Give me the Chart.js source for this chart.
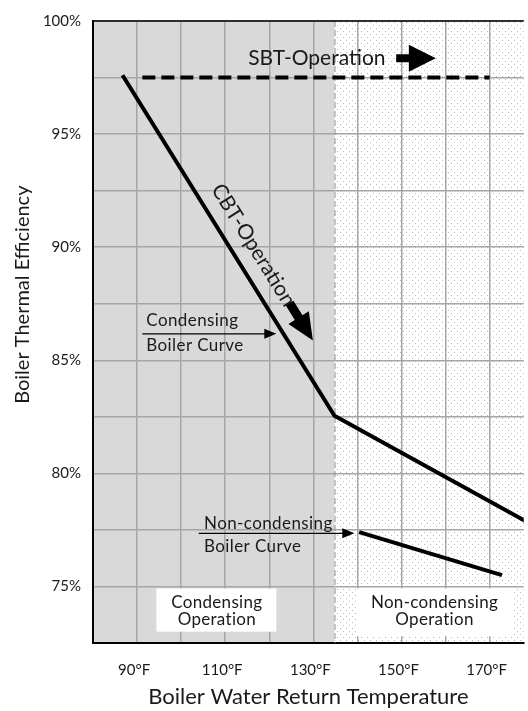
<!DOCTYPE html>
<html>
<head>
<meta charset="utf-8">
<script src="https://cdn.jsdelivr.net/npm/chart.js@4.4.1/dist/chart.umd.min.js"></script>
<style>
    html, body { margin: 0; padding: 0; background: #fff; overflow: hidden; }
    #wrap { width: 528px; height: 711px; }
</style>
</head>
<body>
<div id="wrap"><canvas id="boilerChart" width="528" height="711"></canvas></div>
<script>
// return temperature (°F) and thermal efficiency (%)
var cbtTemps = [86.7, 134.8, 178];
var cbtEff = [97.6, 82.55, 77.9];
var nonCondTemps = [140.4, 172.8];
var nonCondEff = [77.4, 75.5];
var sbtTemps = [91.2, 170];
var sbtEff = [97.5, 97.5];

var condensingLimit = 134.8;   // where the condensing zone ends
var xGridTicks = [80, 90, 100, 110, 120, 130, 140, 150, 160, 170];
var xTickLabels = { 90: '90°F', 110: '110°F', 130: '130°F', 150: '150°F', 170: '170°F' };
var yGridTicks = [72.5, 75, 77.5, 80, 82.5, 85, 87.5, 90, 92.5, 95, 97.5, 100];

var FONT = 'Lato';
var TEXT = '#1a1a1a';

function toPoints(xs, ys) {
    var pts = [];
    for (var i = 0; i < xs.length; i++) pts.push({ x: xs[i], y: ys[i] });
    return pts;
}

// dotted fill for the non-condensing zone
function dotPattern(ctx) {
    var c = document.createElement('canvas');
    c.width = 6; c.height = 6;
    var g = c.getContext('2d');
    g.fillStyle = '#ffffff';
    g.fillRect(0, 0, 6, 6);
    g.fillStyle = '#b8b8b8';
    g.fillRect(1, 1, 1, 1);
    g.fillRect(4, 4, 1, 1);
    return ctx.createPattern(c, 'repeat');
}

function blockArrow(ctx, x0, y0, x1, y1, shaft, headLen, headHalf) {
    var a = Math.atan2(y1 - y0, x1 - x0);
    var len = Math.hypot(x1 - x0, y1 - y0);
    ctx.save();
    ctx.translate(x0, y0);
    ctx.rotate(a);
    ctx.beginPath();
    ctx.moveTo(0, -shaft);
    ctx.lineTo(len - headLen, -shaft);
    ctx.lineTo(len - headLen, -headHalf);
    ctx.lineTo(len, 0);
    ctx.lineTo(len - headLen, headHalf);
    ctx.lineTo(len - headLen, shaft);
    ctx.lineTo(0, shaft);
    ctx.closePath();
    ctx.fillStyle = '#000';
    ctx.fill();
    ctx.restore();
}

function thinArrow(ctx, x0, y, x1) {
    ctx.save();
    ctx.strokeStyle = '#000';
    ctx.lineWidth = 1.3;
    ctx.beginPath();
    ctx.moveTo(x0, y);
    ctx.lineTo(x1 - 10, y);
    ctx.stroke();
    ctx.beginPath();
    ctx.moveTo(x1, y);
    ctx.lineTo(x1 - 12, y - 5);
    ctx.lineTo(x1 - 12, y + 5);
    ctx.closePath();
    ctx.fillStyle = '#000';
    ctx.fill();
    ctx.restore();
}

var zonePlugin = {
    id: 'zones',
    beforeDraw: function (chart) {
        var ctx = chart.ctx, a = chart.chartArea;
        var xb = chart.scales.x.getPixelForValue(condensingLimit);
        ctx.save();
        ctx.fillStyle = '#d9d9d9';
        ctx.fillRect(a.left, a.top, xb - a.left, a.bottom - a.top);
        ctx.fillStyle = dotPattern(ctx);
        ctx.fillRect(xb, a.top, a.right - xb, a.bottom - a.top);
        ctx.restore();
    },
    beforeDatasetsDraw: function (chart) {
        var ctx = chart.ctx, a = chart.chartArea;
        var x = chart.scales.x, y = chart.scales.y;
        var xb = x.getPixelForValue(condensingLimit);
        ctx.save();
        // zone boundary
        ctx.strokeStyle = '#8c8c8c';
        ctx.lineWidth = 1;
        ctx.setLineDash([6, 3]);
        ctx.beginPath();
        ctx.moveTo(xb + 0.5, a.top);
        ctx.lineTo(xb + 0.5, a.bottom);
        ctx.stroke();
        ctx.setLineDash([]);
        // top frame line
        ctx.strokeStyle = '#000';
        ctx.lineWidth = 1.5;
        ctx.beginPath();
        ctx.moveTo(a.left, a.top);
        ctx.lineTo(a.right, a.top);
        ctx.stroke();

        // zone label boxes
        ctx.fillStyle = '#ffffff';
        ctx.fillRect(x.getPixelForValue(94.4), y.getPixelForValue(74.91),
            x.getPixelForValue(121.6) - x.getPixelForValue(94.4),
            y.getPixelForValue(73.0) - y.getPixelForValue(74.91));
        ctx.fillRect(x.getPixelForValue(139.8), y.getPixelForValue(74.91),
            x.getPixelForValue(175.5) - x.getPixelForValue(139.8),
            y.getPixelForValue(72.8) - y.getPixelForValue(74.91));
        ctx.fillStyle = TEXT;
        ctx.font = '17px ' + FONT;
        ctx.letterSpacing = '0.3px';
        ctx.textAlign = 'center';
        ctx.textBaseline = 'middle';
        ctx.fillText('Condensing', x.getPixelForValue(108.1), y.getPixelForValue(74.3));
        ctx.fillText('Operation', x.getPixelForValue(108.1), y.getPixelForValue(73.52));
        ctx.fillText('Non-condensing', x.getPixelForValue(157.5), y.getPixelForValue(74.3));
        ctx.fillText('Operation', x.getPixelForValue(157.5), y.getPixelForValue(73.52));
        ctx.restore();
    },
    afterDatasetsDraw: function (chart) {
        var ctx = chart.ctx;
        var x = chart.scales.x, y = chart.scales.y;
        ctx.save();
        ctx.fillStyle = TEXT;
        ctx.textBaseline = 'middle';

        // SBT label + arrow
        ctx.font = '21px ' + FONT;
        ctx.textAlign = 'center';
        ctx.fillText('SBT-Operation', x.getPixelForValue(130.8), y.getPixelForValue(98.35));
        blockArrow(ctx, x.getPixelForValue(148.8), y.getPixelForValue(98.35),
            x.getPixelForValue(157.8), y.getPixelForValue(98.35), 4, 27, 13.5);

        // CBT label along the condensing curve
        var x0 = x.getPixelForValue(cbtTemps[0]), y0 = y.getPixelForValue(cbtEff[0]);
        var x1 = x.getPixelForValue(cbtTemps[1]), y1 = y.getPixelForValue(cbtEff[1]);
        var ang = Math.atan2(y1 - y0, x1 - x0);
        ctx.save();
        ctx.translate(x.getPixelForValue(116.4), y.getPixelForValue(90.09));
        ctx.rotate(ang);
        ctx.fillText('CBT-Operation', 0, 0);
        ctx.restore();
        var tx = x.getPixelForValue(129.9), ty = y.getPixelForValue(85.87);
        blockArrow(ctx, tx - 44 * Math.cos(ang), ty - 44 * Math.sin(ang), tx, ty, 4.5, 27, 12);

        // curve callouts
        ctx.font = '17px ' + FONT;
        ctx.letterSpacing = '0.4px';
        ctx.textAlign = 'left';
        ctx.fillText('Condensing', x.getPixelForValue(92.1), y.getPixelForValue(86.74));
        ctx.fillText('Boiler Curve', x.getPixelForValue(92.1), y.getPixelForValue(85.65));
        thinArrow(ctx, x.getPixelForValue(91.2), y.getPixelForValue(86.17), x.getPixelForValue(121.6));
        ctx.fillText('Non-condensing', x.getPixelForValue(105.2), y.getPixelForValue(77.78));
        ctx.fillText('Boiler Curve', x.getPixelForValue(105.2), y.getPixelForValue(76.78));
        thinArrow(ctx, x.getPixelForValue(104.0), y.getPixelForValue(77.35), x.getPixelForValue(139.3));
        ctx.restore();
    },
    afterDraw: function (chart) {
        // y axis title, sits a bit above the plot's middle like the original
        var ctx = chart.ctx;
        ctx.save();
        ctx.translate(23, chart.scales.y.getPixelForValue(87.9));
        ctx.rotate(-Math.PI / 2);
        ctx.fillStyle = TEXT;
        ctx.font = '20px ' + FONT;
        ctx.textAlign = 'center';
        ctx.textBaseline = 'middle';
        ctx.fillText('Boiler Thermal Efficiency', 0, 0);
        ctx.restore();
    }
};

var ctx = document.getElementById('boilerChart').getContext('2d');
new Chart(ctx, {
    type: 'scatter',
    data: {
        datasets: [
            {
                label: 'CBT',
                data: toPoints(cbtTemps, cbtEff),
                showLine: true,
                borderColor: '#000',
                borderWidth: 4,
                pointRadius: 0
            },
            {
                label: 'Non-condensing',
                data: toPoints(nonCondTemps, nonCondEff),
                showLine: true,
                borderColor: '#000',
                borderWidth: 4,
                pointRadius: 0
            },
            {
                label: 'SBT',
                data: toPoints(sbtTemps, sbtEff),
                showLine: true,
                borderColor: '#000',
                borderWidth: 4,
                borderDash: [13, 6],
                pointRadius: 0
            }
        ]
    },
    options: {
        responsive: false,
        animation: false,
        devicePixelRatio: 1,
        layout: { padding: { top: 12, right: 0, bottom: 0, left: 0 } },
        plugins: {
            legend: { display: false },
            tooltip: { enabled: false }
        },
        scales: {
            x: {
                type: 'linear',
                min: 80,
                max: 177.75,
                afterBuildTicks: function (s) {
                    s.ticks = xGridTicks.map(function (v) { return { value: v }; });
                },
                afterFit: function (s) { s.height = 68; },
                grid: { color: '#a6a6a6', lineWidth: 1.5, drawTicks: false },
                border: { color: '#000', width: 2 },
                ticks: {
                    padding: 18,
                    labelOffset: -3,
                    maxRotation: 0,
                    autoSkip: false,
                    color: TEXT,
                    font: { family: FONT, size: 15 },
                    callback: function (v) { return xTickLabels[v] || ''; }
                },
                title: {
                    display: true,
                    text: 'Boiler Water Return Temperature',
                    color: TEXT,
                    font: { family: FONT, size: 22 },
                    padding: { top: 0, bottom: 1 }
                }
            },
            y: {
                type: 'linear',
                min: 72.5,
                max: 100,
                afterBuildTicks: function (s) {
                    s.ticks = yGridTicks.map(function (v) { return { value: v }; });
                },
                afterFit: function (s) { s.width = 93; },
                grid: { color: '#a6a6a6', lineWidth: 1.5, drawTicks: false },
                border: { color: '#000', width: 2 },
                ticks: {
                    padding: 12,
                    autoSkip: false,
                    color: TEXT,
                    font: { family: FONT, size: 15 },
                    callback: function (v) { return v % 5 === 0 ? v + '%' : ''; }
                },
                title: { display: false }
            }
        }
    },
    plugins: [zonePlugin]
});
</script>
</body>
</html>
